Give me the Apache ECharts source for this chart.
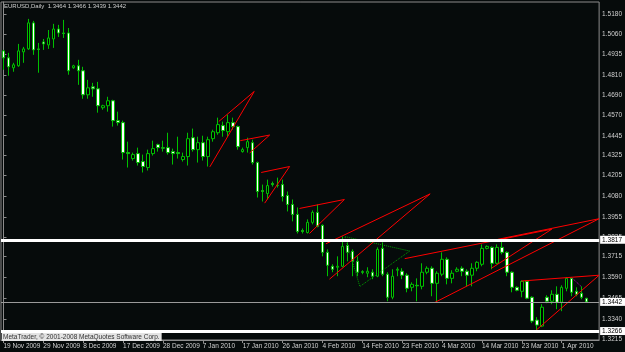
<!DOCTYPE html>
<html>
<head>
<meta charset="utf-8">
<script src="https://cdn.jsdelivr.net/npm/echarts@6/dist/echarts.min.js"></script>
<style>
  html, body { margin: 0; padding: 0; background: #060b0b; }
  #chart { width: 625px; height: 352px; }
</style>
</head>
<body>
<div id="chart"></div>
<script>
// EURUSD daily, 19 Nov 2009 - 7 Apr 2010
const dateTicks = ['19 Nov 2009', '29 Nov 2009', '8 Dec 2009', '17 Dec 2009', '28 Dec 2009', '7 Jan 2010',
  '17 Jan 2010', '26 Jan 2010', '4 Feb 2010', '14 Feb 2010', '23 Feb 2010', '4 Mar 2010', '14 Mar 2010',
  '23 Mar 2010', '1 Apr 2010']
const priceTicks = [1.5180, 1.5060, 1.4935, 1.4810, 1.4690, 1.4570, 1.4445, 1.4325, 1.4205, 1.4080,
  1.3955, 1.3835, 1.3715, 1.3590, 1.3465, 1.3340, 1.3215]

const opens = [1.4957, 1.4915, 1.4855, 1.4867, 1.4951, 1.4969, 1.5126, 1.4969, 1.5011, 1.4993,
  1.5029, 1.5089, 1.5065, 1.5065, 1.4855, 1.4867, 1.4837, 1.4692, 1.4740, 1.4728,
  1.4614, 1.4626, 1.4656, 1.4536, 1.4524, 1.4343, 1.4307, 1.4337, 1.4289, 1.4253,
  1.4337, 1.4391, 1.4373, 1.4373, 1.4349, 1.4343, 1.4301, 1.4319, 1.4433, 1.4361,
  1.4403, 1.4319, 1.4427, 1.4463, 1.4506, 1.4469, 1.4524, 1.4500, 1.4349, 1.4373,
  1.4403, 1.4283, 1.4114, 1.4096, 1.4156, 1.4144, 1.4150, 1.4084, 1.4030, 1.3970,
  1.3873, 1.3861, 1.3922, 1.3982, 1.3904, 1.3741, 1.3657, 1.3651, 1.3657, 1.3783,
  1.3747, 1.3687, 1.3624, 1.3615, 1.3621, 1.3597, 1.3765, 1.3609, 1.3470, 1.3633,
  1.3627, 1.3603, 1.3530, 1.3542, 1.3536, 1.3621, 1.3645, 1.3554, 1.3609, 1.3699,
  1.3584, 1.3627, 1.3645, 1.3627, 1.3603, 1.3645, 1.3669, 1.3765, 1.3771, 1.3675,
  1.3771, 1.3741, 1.3621, 1.3530, 1.3506, 1.3566, 1.3470, 1.3332, 1.3296, 1.3470,
  1.3446, 1.3488, 1.3440, 1.3524, 1.3584, 1.3506, 1.3494, 1.3464]
const closes = [1.4915, 1.4861, 1.4873, 1.4957, 1.4969, 1.5126, 1.4963, 1.4966, 1.4999, 1.5035,
  1.5089, 1.5065, 1.5062, 1.4837, 1.4867, 1.4837, 1.4692, 1.4734, 1.4728, 1.4626,
  1.4626, 1.4656, 1.4536, 1.4524, 1.4343, 1.4337, 1.4331, 1.4283, 1.4259, 1.4337,
  1.4367, 1.4373, 1.4370, 1.4343, 1.4337, 1.4337, 1.4319, 1.4427, 1.4361, 1.4403,
  1.4319, 1.4421, 1.4469, 1.4512, 1.4476, 1.4524, 1.4500, 1.4379, 1.4361, 1.4409,
  1.4283, 1.4108, 1.4108, 1.4144, 1.4150, 1.4147, 1.4078, 1.4030, 1.3970, 1.3867,
  1.3867, 1.3922, 1.3982, 1.3898, 1.3741, 1.3663, 1.3639, 1.3657, 1.3777, 1.3741,
  1.3687, 1.3621, 1.3621, 1.3627, 1.3597, 1.3759, 1.3609, 1.3470, 1.3597, 1.3639,
  1.3603, 1.3524, 1.3548, 1.3539, 1.3621, 1.3645, 1.3554, 1.3615, 1.3699, 1.3584,
  1.3615, 1.3639, 1.3627, 1.3603, 1.3645, 1.3681, 1.3765, 1.3777, 1.3675, 1.3771,
  1.3741, 1.3621, 1.3530, 1.3512, 1.3566, 1.3464, 1.3326, 1.3302, 1.3410, 1.3446,
  1.3488, 1.3440, 1.3530, 1.3584, 1.3500, 1.3488, 1.3470, 1.3442]
const lows = [1.4843, 1.4807, 1.4831, 1.4861, 1.4885, 1.4963, 1.4933, 1.4825, 1.4963, 1.4969,
  1.4975, 1.5041, 1.5035, 1.4813, 1.4849, 1.4752, 1.4668, 1.4668, 1.4680, 1.4584,
  1.4602, 1.4590, 1.4500, 1.4506, 1.4301, 1.4253, 1.4295, 1.4265, 1.4223, 1.4235,
  1.4325, 1.4349, 1.4349, 1.4331, 1.4271, 1.4307, 1.4289, 1.4265, 1.4349, 1.4283,
  1.4295, 1.4259, 1.4409, 1.4451, 1.4439, 1.4439, 1.4482, 1.4361, 1.4343, 1.4343,
  1.4271, 1.4072, 1.4048, 1.4060, 1.4138, 1.4132, 1.4048, 1.3988, 1.3928, 1.3855,
  1.3855, 1.3855, 1.3910, 1.3892, 1.3717, 1.3597, 1.3621, 1.3597, 1.3651, 1.3687,
  1.3597, 1.3597, 1.3609, 1.3591, 1.3579, 1.3591, 1.3597, 1.3446, 1.3458, 1.3597,
  1.3579, 1.3500, 1.3506, 1.3446, 1.3518, 1.3609, 1.3476, 1.3440, 1.3597, 1.3548,
  1.3554, 1.3621, 1.3597, 1.3536, 1.3536, 1.3627, 1.3657, 1.3759, 1.3639, 1.3669,
  1.3729, 1.3597, 1.3500, 1.3506, 1.3470, 1.3458, 1.3314, 1.3266, 1.3290, 1.3434,
  1.3428, 1.3398, 1.3386, 1.3506, 1.3476, 1.3476, 1.3458, 1.3439]
const highs = [1.4963, 1.4945, 1.4885, 1.4999, 1.4981, 1.5150, 1.5138, 1.5005, 1.5029, 1.5083,
  1.5120, 1.5114, 1.5144, 1.5095, 1.4873, 1.4903, 1.4861, 1.4782, 1.4764, 1.4770,
  1.4632, 1.4680, 1.4662, 1.4590, 1.4536, 1.4409, 1.4343, 1.4373, 1.4331, 1.4361,
  1.4415, 1.4397, 1.4415, 1.4463, 1.4367, 1.4439, 1.4343, 1.4463, 1.4488, 1.4439,
  1.4445, 1.4439, 1.4481, 1.4554, 1.4530, 1.4572, 1.4554, 1.4506, 1.4373, 1.4433,
  1.4421, 1.4289, 1.4150, 1.4180, 1.4168, 1.4192, 1.4180, 1.4108, 1.4060, 1.4012,
  1.3885, 1.3940, 1.3994, 1.4030, 1.3910, 1.3759, 1.3669, 1.3717, 1.3837, 1.3801,
  1.3759, 1.3717, 1.3633, 1.3651, 1.3639, 1.3771, 1.3801, 1.3621, 1.3639, 1.3651,
  1.3645, 1.3615, 1.3560, 1.3584, 1.3675, 1.3657, 1.3657, 1.3627, 1.3741, 1.3711,
  1.3633, 1.3651, 1.3657, 1.3639, 1.3675, 1.3687, 1.3789, 1.3783, 1.3777, 1.3789,
  1.3813, 1.3747, 1.3627, 1.3536, 1.3572, 1.3572, 1.3476, 1.3350, 1.3428, 1.3482,
  1.3512, 1.3536, 1.3542, 1.3590, 1.3590, 1.3530, 1.3536, 1.3466]

// horizontal levels and bid
const levels = [1.3817, 1.3266]
const bid = 1.3442

// drawn objects: [bar index, price]
const redShapes = [
  [[41.4, 1.4257], [50.3, 1.4712], [43.2, 1.4531]],
  [[47.5, 1.4415], [53.4, 1.4449], [49.4, 1.4341]],
  [[51.7, 1.4223], [57.4, 1.4259], [52.4, 1.4038]],
  [[59.4, 1.4006], [68.4, 1.4060], [61.4, 1.3855]],
  [[64.7, 1.3793], [85.6, 1.4094], [65.4, 1.3579]],
  [[80.5, 1.3703], [110.0, 1.3881], [97.9, 1.3645]],
  [[99.1, 1.3819], [119.5, 1.3944], [86.5, 1.3438]],
  [[103.9, 1.3568], [119.5, 1.3603], [106.9, 1.3272]]
]
const greenShape = [[68.5, 1.3836], [81.5, 1.3749], [71.5, 1.3535], [68.5, 1.3836]]
const purpleShape = [[114.2, 1.3583], [115.9, 1.3535]]

const N = 120 // bars incl. chart shift
const cats = []
for (let i = 0; i < N; i++) cats.push(String(i))

const font = 'Liberation Sans'
const txt = '#d0d0d0'
const frame = '#8c8c8c'

const chart = echarts.init(document.getElementById('chart'))

const candles = opens.map((o, i) => [o, closes[i], lows[i], highs[i]])

const boxLabel = (v) => ({
  show: true,
  position: 'end',
  distance: 1,
  formatter: v.toFixed(4),
  backgroundColor: '#ffffff',
  color: '#000000',
  fontSize: 6.5,
  fontFamily: font,
  padding: [1, 3, 0, 2]
})

const series = [
  {
    type: 'candlestick',
    data: candles,
    barWidth: 3,
    itemStyle: {
      color: '#000000',
      color0: '#ffffff',
      borderColor: '#00c000',
      borderColor0: '#00c000',
      borderWidth: 1
    },
    markLine: {
      symbol: ['none', 'none'],
      silent: true,
      animation: false,
      precision: 4,
      data: [
        ...levels.map(v => ({ yAxis: v, lineStyle: { color: '#ffffff', width: 3, type: 'solid' }, label: boxLabel(v) })),
        { yAxis: bid, lineStyle: { color: '#9a9a9a', width: 1, type: 'solid' }, label: boxLabel(bid) }
      ]
    },
    z: 2
  }
]
redShapes.forEach(s => {
  series.push({
    type: 'line', xAxisIndex: 1, data: s, symbol: 'none', silent: true,
    lineStyle: { color: '#ff0000', width: 1 }, z: 4
  })
})
series.push({
  type: 'line', xAxisIndex: 1, data: greenShape, symbol: 'none', silent: true,
  lineStyle: { color: '#00a000', width: 1, type: 'dotted' }, z: 3
})
series.push({
  type: 'line', xAxisIndex: 1, data: purpleShape, symbol: 'none', silent: true,
  lineStyle: { color: '#c000c0', width: 1, type: 'dotted' }, z: 4
})

const option = {
  backgroundColor: '#060b0b',
  animation: false,
  grid: {
    left: 1, right: 24, top: 2, bottom: 12,
    show: true, borderColor: frame, borderWidth: 1, backgroundColor: 'transparent'
  },
  xAxis: [
    {
      type: 'category',
      data: cats,
      boundaryGap: true,
      axisLine: { show: true, lineStyle: { color: frame } },
      axisTick: { show: true, interval: 7, alignWithLabel: true, length: 3, lineStyle: { color: frame } },
      axisLabel: {
        interval: 7,
        formatter: (v, idx) => dateTicks[idx / 8] || '',
        color: txt, fontSize: 6.5, fontFamily: font, align: 'left', margin: 3
      },
      splitLine: { show: false }
    },
    { type: 'value', min: -0.5, max: N - 0.5, show: false }
  ],
  yAxis: {
    type: 'value',
    position: 'right',
    min: 1.3212,
    max: 1.5252,
    axisLine: { show: true, lineStyle: { color: frame } },
    axisTick: { show: true, length: 3, customValues: priceTicks, lineStyle: { color: frame } },
    axisLabel: {
      customValues: priceTicks,
      formatter: v => v.toFixed(4),
      color: txt, fontSize: 6.5, fontFamily: font, margin: 3
    },
    splitLine: { show: false }
  },
  graphic: [
    {
      type: 'text', left: 4, top: 3, z: 10,
      style: { text: 'EURUSD,Daily  1.3464 1.3466 1.3439 1.3442', fill: txt, font: '6px "Liberation Sans"' }
    },
    {
      type: 'text', left: 2, top: 333, z: 10,
      style: {
        text: 'MetaTrader, © 2001-2008 MetaQuotes Software Corp.', fill: '#303030',
        font: '6.5px "Liberation Sans"', backgroundColor: '#e4e4e4', padding: [1, 2, 0, 1]
      }
    }
  ],
  series: series
}

chart.setOption(option)
</script>
</body>
</html>
